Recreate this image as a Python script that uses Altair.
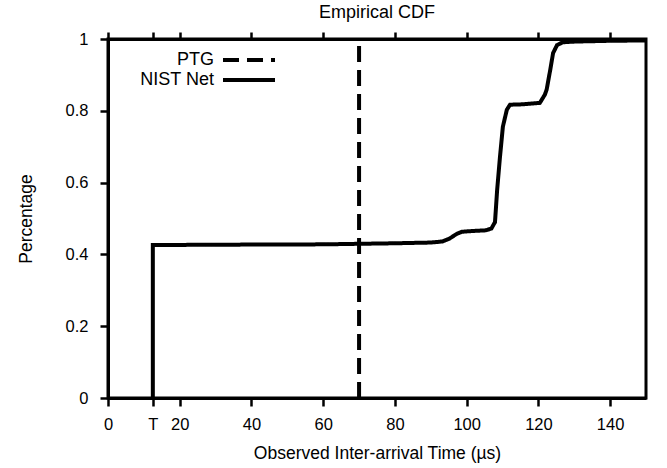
import altair as alt
import pandas as pd

# NIST Net empirical CDF
nist_x = [12.5, 12.5, 30, 60, 80, 90, 93.2, 95.2, 97.2, 98.7, 101.3, 105.3, 106.9, 107.9, 108.5,
          109.3, 110.1, 111.2, 112.1, 115.5, 120.4, 121.2, 121.8, 122.3, 123.3, 124.1, 125.2,
          126.8, 130.7, 140, 150]
nist_y = [0.0, 0.426, 0.427, 0.428, 0.431, 0.433, 0.436, 0.444, 0.457, 0.463, 0.465, 0.467, 0.472,
          0.49, 0.58, 0.673, 0.756, 0.803, 0.817, 0.818, 0.822, 0.835, 0.845, 0.859, 0.914, 0.961,
          0.983, 0.991, 0.993, 0.995, 0.996]

# PTG: constant inter-arrival time
ptg_x = [70, 70]
ptg_y = [0.0, 1.0]

series_names = ["PTG", "NIST Net"]
x_ticks = [0, 12.5, 20, 40, 60, 80, 100, 120, 140]
y_ticks = [0, 0.2, 0.4, 0.6, 0.8, 1.0]

rows = []
for i, (x, y) in enumerate(zip(ptg_x, ptg_y)):
    rows.append({"series": "PTG", "x": x, "y": y, "i": i})
for i, (x, y) in enumerate(zip(nist_x, nist_y)):
    rows.append({"series": "NIST Net", "x": x, "y": y, "i": i})
df = pd.DataFrame(rows)

FONT = "Liberation Sans"

xscale = alt.Scale(domain=[0, 150], nice=False, zero=False)
yscale = alt.Scale(domain=[0, 1], nice=False)

lines = alt.Chart(df).mark_line(strokeWidth=4, color="black", strokeCap="butt").encode(
    x=alt.X("x:Q", scale=xscale,
            axis=alt.Axis(values=x_ticks, title="Observed Inter-arrival Time (\u00b5s)",
                          labelExpr="datum.value == 12.5 ? 'T' : datum.label",
                          orient="bottom", grid=False, tickSize=8, tickWidth=2.5,
                          domainWidth=3, labelPadding=10, titlePadding=12, labelFlush=False)),
    y=alt.Y("y:Q", scale=yscale,
            axis=alt.Axis(values=y_ticks, format="~g", title="Percentage", grid=False,
                          tickSize=8, tickWidth=2.5, domainWidth=3, labelPadding=12,
                          titlePadding=30)),
    strokeDash=alt.StrokeDash("series:N",
                              scale=alt.Scale(domain=series_names, range=[[16, 8], [1, 0]]),
                              legend=alt.Legend(title=None, orient="none", legendX=130,
                                                legendY=10, symbolType="M-2.889,0H2.889",
                                                symbolSize=324, symbolStrokeWidth=4,
                                                symbolStrokeColor="black",
                                                symbolFillColor="transparent",
                                                labelAlign="right", labelOffset={"expr": "-46"},
                                                labelFont=FONT, labelFontSize=18,
                                                labelColor="black", rowPadding=0,
                                                padding=0)),
    order=alt.Order("i:Q"),
    detail="series:N",
)

top_axis = alt.Chart(df).mark_line(opacity=0).encode(
    x=alt.X("x:Q", scale=xscale,
            axis=alt.Axis(values=x_ticks, orient="top", labels=False, title=None, grid=False,
                          tickSize=7, tickWidth=2.5, domainWidth=3)),
    y=alt.Y("y:Q", scale=yscale, axis=None),
    detail="series:N",
)

chart = alt.layer(lines, top_axis).resolve_axis(x="independent", y="independent").properties(
    width=538, height=359,
    padding={"left": 108, "top": 39, "right": 21, "bottom": 70},
    autosize=alt.AutoSizeParams(type="none"),
    title=alt.Title("Empirical CDF", font=FONT, fontSize=18, fontWeight="normal",
                    color="black", offset=9),
).configure_view(stroke="black", strokeWidth=3).configure_axis(
    labelFont=FONT, labelFontSize=16.5, labelColor="black", titleFont=FONT, titleFontSize=17.5,
    titleFontWeight="normal", titleColor="black", domainColor="black", tickColor="black"
)

chart.save("out.html", embed_options={"renderer": "svg", "actions": False})
